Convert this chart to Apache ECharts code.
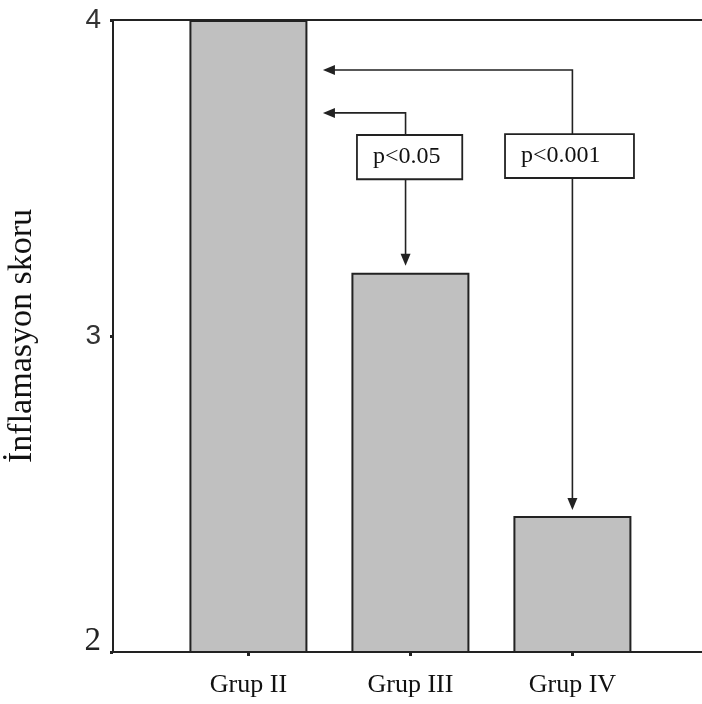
<!DOCTYPE html>
<html>
<head>
<meta charset="utf-8">
<script src="https://cdn.jsdelivr.net/npm/echarts@6/dist/echarts.min.js"></script>
<style>html,body{margin:0;padding:0;background:#fff;}#main{width:702px;height:704px;}</style>
</head>
<body>
<div id="main"></div>
<script>
// ---- data ----
const categories = ['Grup II', 'Grup III', 'Grup IV'];
const categoryPos = [1, 2, 3];
const scores = [4.0, 3.2, 2.43];
const yTicks = [2, 3, 4];
const yAxisTitle = 'İnflamasyon skoru';

// comparisons (Grup II vs others), in data coordinates
const annotLabels = ['p<0.05', 'p<0.001'];
const annotLineX = [1.97, 3.0];
const annotBracketY = [3.706, 3.842];
const annotBoxTop = [3.636, 3.639];
const annotBoxBottom = [3.496, 3.5];
const annotArrowEnd = [3.222, 2.449];
const annotBoxX0 = [1.67, 2.584];
const annotBoxX1 = [2.32, 3.38];
const annotTipX = [1.46, 1.46];

const chart = echarts.init(document.getElementById('main'), null, {renderer: 'canvas'});
const ink = '#222';

const option = {
  backgroundColor: '#fff',
  animation: false,
  grid: {left: 113, top: 20, right: 0, bottom: 52, show: false, containLabel: false, outerBoundsMode: 'none'},
  xAxis: [{
    type: 'value', min: 0.164, max: 3.80,
    axisLine: {show: true, lineStyle: {color: ink, width: 2}},
    axisTick: {show: true, length: 4, customValues: categoryPos, lineStyle: {color: ink, width: 3}},
    splitLine: {show: false},
    axisLabel: {
      customValues: categoryPos,
      formatter: v => categories[Math.round(v) - 1] || '',
      fontFamily: 'Liberation Serif', fontSize: 26, color: '#111', margin: 20
    }
  }, {
    type: 'value', position: 'top', min: 0.164, max: 3.80,
    axisLine: {show: true, lineStyle: {color: ink, width: 2}},
    axisTick: {show: false}, axisLabel: {show: false}, splitLine: {show: false}
  }],
  yAxis: {
    type: 'value', min: 2, max: 4, interval: 1,
    name: yAxisTitle, nameLocation: 'middle', nameGap: 74,
    nameTextStyle: {fontFamily: 'Liberation Serif', fontSize: 34, color: '#111'},
    axisLine: {show: true, lineStyle: {color: ink, width: 2}},
    axisTick: {show: true, length: 3, lineStyle: {color: ink, width: 3}},
    splitLine: {show: false},
    axisLabel: {
      margin: 12,
      formatter: v => (v === 2 ? '{s|2}' : '{a|' + v + '}'),
      rich: {
        a: {fontFamily: 'Liberation Sans', fontSize: 28, color: '#333'},
        s: {fontFamily: 'Liberation Serif', fontSize: 33, color: '#222', padding: [0, 0, 22, 0]}
      }
    }
  },
  series: [
    {
      type: 'bar',
      data: categoryPos.map((x, i) => [x, scores[i]]),
      barWidth: 118,
      clip: true,
      itemStyle: {color: '#c0c0c0', borderColor: ink, borderWidth: 2}
    },
    {
      type: 'custom',
      clip: false,
      z: 5,
      encode: {x: 0, y: [1, 2, 3, 4]},
      data: annotLineX.map((x, i) => [x, annotBracketY[i], annotBoxTop[i], annotBoxBottom[i], annotArrowEnd[i]]),
      renderItem: function (params, api) {
        const i = params.dataIndex;
        const lx = api.value(0);
        const pB = api.coord([lx, api.value(1)]);
        const pT = api.coord([annotTipX[i], api.value(1)]);
        const pBoxTL = api.coord([annotBoxX0[i], api.value(2)]);
        const pBoxBR = api.coord([annotBoxX1[i], api.value(3)]);
        const pTop = api.coord([lx, api.value(2)]);
        const pBot = api.coord([lx, api.value(3)]);
        const pEnd = api.coord([lx, api.value(4)]);
        const hl = 12, hw = 5;
        const stroke = {stroke: ink, lineWidth: 1.6, fill: null};
        return {
          type: 'group',
          children: [
            {type: 'polyline', shape: {points: [[pT[0] + hl - 1, pT[1]], pB, pTop]}, style: stroke},
            {type: 'polygon', shape: {points: [pT, [pT[0] + hl, pT[1] - hw], [pT[0] + hl, pT[1] + hw]]}, style: {fill: ink}},
            {type: 'line', shape: {x1: pBot[0], y1: pBot[1], x2: pEnd[0], y2: pEnd[1] - hl + 1}, style: stroke},
            {type: 'polygon', shape: {points: [pEnd, [pEnd[0] - hw, pEnd[1] - hl], [pEnd[0] + hw, pEnd[1] - hl]]}, style: {fill: ink}},
            {type: 'rect', shape: {x: pBoxTL[0], y: pBoxTL[1], width: pBoxBR[0] - pBoxTL[0], height: pBoxBR[1] - pBoxTL[1]},
             style: {fill: '#fff', stroke: ink, lineWidth: 1.8}},
            {type: 'text', x: pBoxTL[0] + 16, y: (pBoxTL[1] + pBoxBR[1]) / 2,
             style: {text: annotLabels[i], fontFamily: 'Liberation Serif', fontSize: 24, fill: '#111',
                     align: 'left', verticalAlign: 'middle'}}
          ]
        };
      }
    }
  ]
};
chart.setOption(option);
</script>
</body>
</html>
